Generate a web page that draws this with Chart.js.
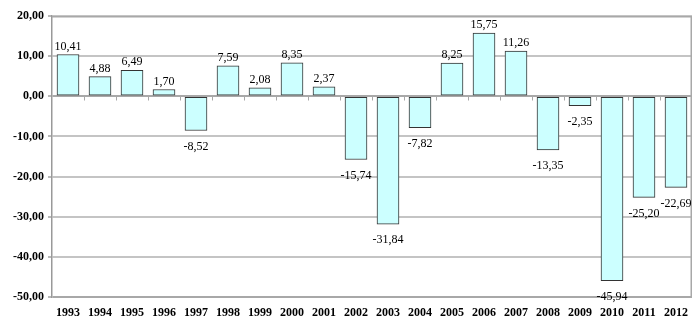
<!DOCTYPE html>
<html>
<head>
<meta charset="utf-8">
<script src="https://cdn.jsdelivr.net/npm/chart.js@4/dist/chart.umd.min.js"></script>
<style>
  html, body { margin: 0; padding: 0; background: #fff; }
  #wrap { width: 700px; height: 335px; }
</style>
</head>
<body>
<div id="wrap"><canvas id="grafico"></canvas></div>
<script>
// Años y variación anual
const anios = ['1993', '1994', '1995', '1996', '1997', '1998', '1999', '2000', '2001', '2002',
  '2003', '2004', '2005', '2006', '2007', '2008', '2009', '2010', '2011', '2012'];
const variacion = [10.41, 4.88, 6.49, 1.70, -8.52, 7.59, 2.08, 8.35, 2.37, -15.74,
  -31.84, -7.82, 8.25, 15.75, 11.26, -13.35, -2.35, -45.94, -25.20, -22.69];

const fmt = v => v.toFixed(2).replace('.', ',');
const serif = '"Liberation Serif", "Times New Roman", serif';

// Marco y marcas de categoría sobre la línea del cero
const fondo = {
  id: 'fondo',
  beforeDatasetsDraw(chart) {
    const { ctx, chartArea: a, scales: { y } } = chart;
    ctx.save();
    ctx.lineWidth = 1.5;
    ctx.strokeStyle = '#a8a8a8';
    ctx.beginPath();
    ctx.moveTo(a.left, a.top + 0.75);
    ctx.lineTo(a.right - 0.75, a.top + 0.75);
    ctx.lineTo(a.right - 0.75, a.bottom);
    ctx.stroke();
    const y0 = Math.round(y.getPixelForValue(0)) + 0.5;
    const paso = (a.right - a.left) / anios.length;
    ctx.lineWidth = 1;
    ctx.beginPath();
    for (let i = 1; i < anios.length; i++) {
      const px = Math.round(a.left + i * paso) + 0.5;
      ctx.moveTo(px, y0);
      ctx.lineTo(px, y0 + 4);
    }
    ctx.stroke();
    ctx.restore();
  },
  // valores encima / debajo de cada barra
  afterDatasetsDraw(chart) {
    const { ctx } = chart;
    ctx.save();
    ctx.fillStyle = '#000';
    ctx.font = '12px ' + serif;
    ctx.textAlign = 'center';
    ctx.textBaseline = 'middle';
    chart.getDatasetMeta(0).data.forEach((bar, i) => {
      const v = variacion[i];
      ctx.fillText(fmt(v), bar.x, v >= 0 ? bar.y - 8 : bar.y + 16);
    });
    ctx.restore();
  }
};

new Chart(document.getElementById('grafico'), {
  type: 'bar',
  data: {
    labels: anios,
    datasets: [{
      data: variacion,
      backgroundColor: '#ccffff',
      borderColor: '#333',
      borderWidth: 1,
      borderSkipped: false,
      barThickness: 22
    }]
  },
  options: {
    responsive: true,
    maintainAspectRatio: false,
    animation: false,
    layout: { padding: { top: 16, right: 8, left: 0, bottom: 0 } },
    plugins: {
      legend: { display: false },
      tooltip: { enabled: false }
    },
    scales: {
      x: {
        grid: { display: false, drawTicks: false },
        border: { display: false },
        ticks: {
          color: '#000',
          padding: 9,
          maxRotation: 0,
          autoSkip: false,
          font: { family: serif, size: 12, weight: 'bold' }
        },
        afterFit: s => { s.height = 38; }
      },
      y: {
        min: -50,
        max: 20,
        ticks: {
          stepSize: 10,
          color: '#000',
          padding: 4,
          callback: v => fmt(v),
          font: { family: serif, size: 12, weight: 'bold' }
        },
        grid: {
          color: c => c.tick && (c.tick.value === 0 || c.tick.value === -50) ? '#a8a8a8' : '#c4c4c4',
          lineWidth: 2,
          tickLength: 4,
          tickColor: '#a0a0a0',
          tickWidth: 1.5
        },
        border: { color: '#999', width: 1.5 },
        afterFit: s => { s.width = 52; }
      }
    }
  },
  plugins: [fondo]
});
</script>
</body>
</html>
